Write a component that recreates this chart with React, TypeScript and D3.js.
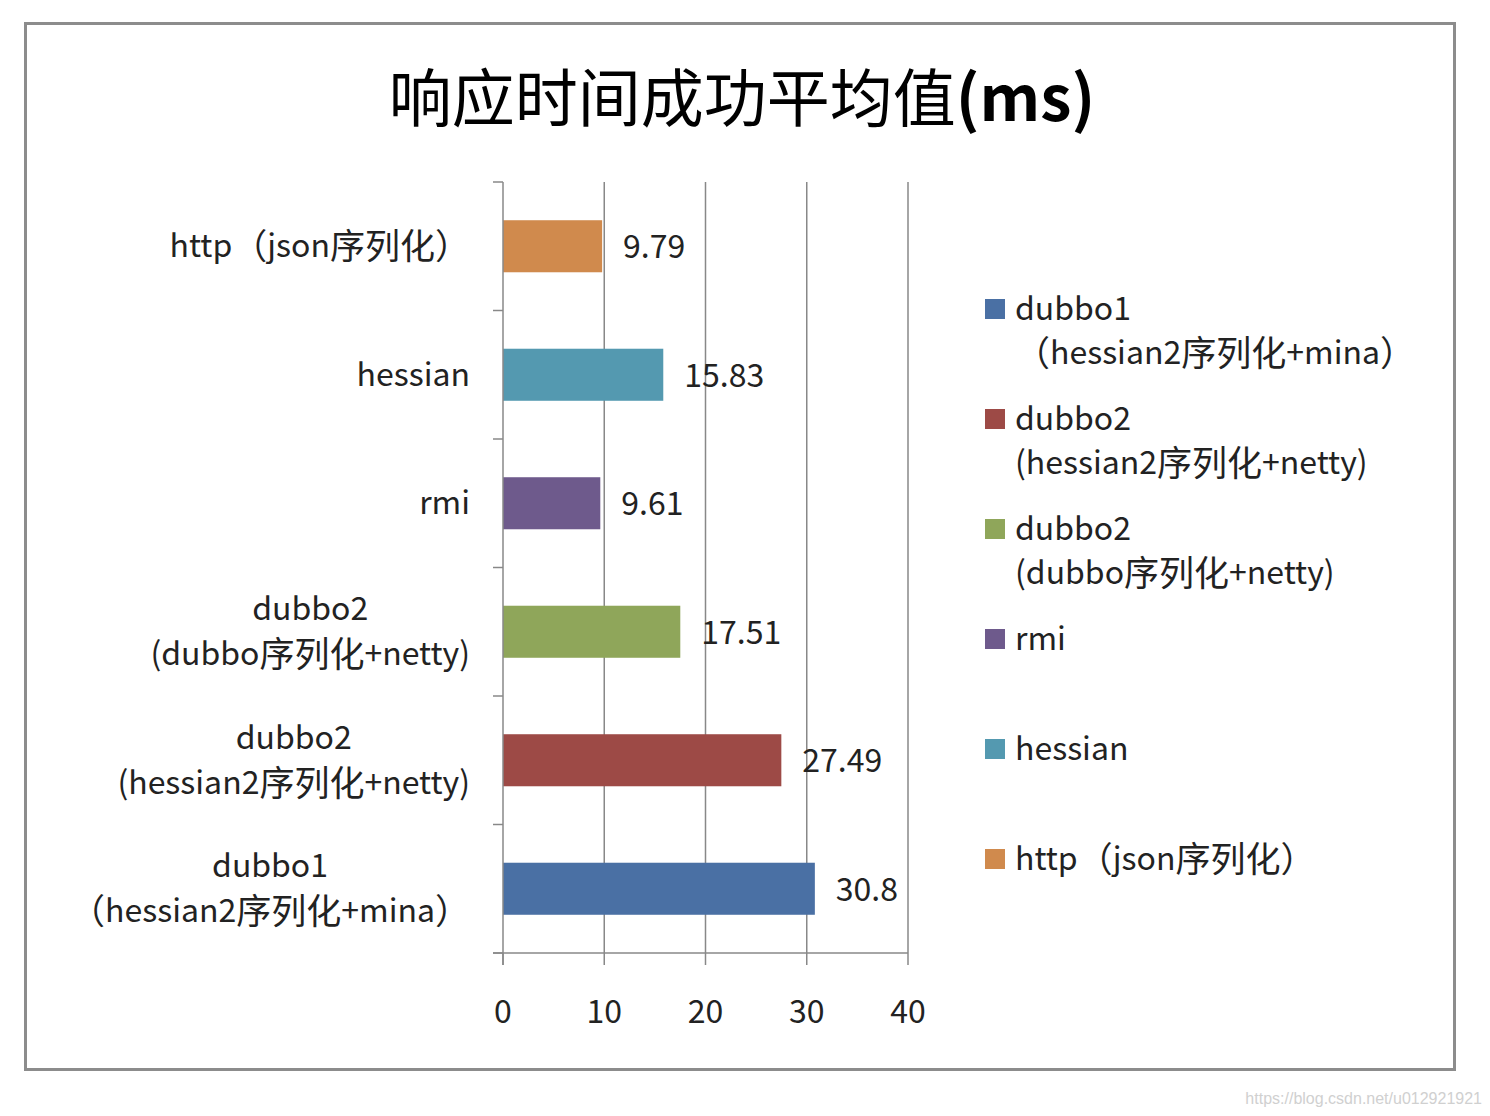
import React from "react";
import * as d3 from "d3";

const categories: string[][] = [
  ["http（json序列化）"],
  ["hessian"],
  ["rmi"],
  ["dubbo2", "(dubbo序列化+netty)"],
  ["dubbo2", "(hessian2序列化+netty)"],
  ["dubbo1", "（hessian2序列化+mina）"],
];
const values: number[] = [9.79, 15.83, 9.61, 17.51, 27.49, 30.8];
const valueLabels: string[] = ["9.79", "15.83", "9.61", "17.51", "27.49", "30.8"];
const colors: string[] = ["#D08A4D", "#5499B0", "#6E5A8C", "#8FA65A", "#9D4A46", "#4A70A4"];
const xTicks: number[] = [0, 10, 20, 30, 40];
const legendOrder: number[] = [5, 4, 3, 2, 1, 0];
const title = "响应时间成功平均值";
const titleUnit = "(ms)";
const watermark = "https://blog.csdn.net/u012921921";

const FONT = "'Noto Sans CJK SC', 'Noto Sans', sans-serif";
const LABEL_SIZE = 32;
const CJK_SIZE = 35;

const CJK_RE = /([\u3000-\u9fff\uff00-\uffef]+)/;

function runs(text: string): { t: string; cjk: boolean }[] {
  return text
    .split(CJK_RE)
    .filter((s) => s.length > 0)
    .map((s) => ({ t: s, cjk: CJK_RE.test(s) }));
}

let ctxCache: CanvasRenderingContext2D | null = null;
function measureRun(text: string, size: number): number {
  if (typeof document === "undefined") return text.length * size * 0.5;
  if (!ctxCache) ctxCache = document.createElement("canvas").getContext("2d");
  if (!ctxCache) return text.length * size * 0.5;
  ctxCache.font = `${size}px ${FONT}`;
  return ctxCache.measureText(text).width;
}
function measure(text: string): number {
  return runs(text).reduce((s, r) => s + measureRun(r.t, r.cjk ? CJK_SIZE : LABEL_SIZE), 0);
}

function MixedText(props: { text: string; x: number; y: number; anchor?: string }) {
  const { text, x, y, anchor } = props;
  return (
    <text
      x={x}
      y={y}
      textAnchor={anchor || "start"}
      dominantBaseline="central"
      fontSize={LABEL_SIZE}
      fill="#222"
    >
      {runs(text).map((r, k) => (
        <tspan key={k} fontSize={r.cjk ? CJK_SIZE : LABEL_SIZE}>
          {r.t}
        </tspan>
      ))}
    </text>
  );
}

export default function App() {
  const W = 1490;
  const H = 1116;
  const x = d3.scaleLinear().domain([0, 40]).range([503, 908]);
  const y = d3
    .scaleBand<number>()
    .domain(d3.range(categories.length))
    .range([182, 953])
    .padding(0);
  const bw = y.bandwidth();
  const barH = bw * 0.405;
  const labelRight = 470;
  const lineGap = 45;
  const dyText = -3;

  return (
    <svg
      width={W}
      height={H}
      style={{ position: "absolute", left: 0, top: 0, background: "#fff" }}
      fontFamily={FONT}
    >
      <rect x={0} y={0} width={W} height={H} fill="#fff" />
      <rect x={25.5} y={23.5} width={1429} height={1046} fill="#fff" stroke="#8c8c8c" strokeWidth={3} />

      <text x={742} y={93} textAnchor="middle" dominantBaseline="central" fontSize={63} fill="#000">
        {title}
        <tspan fontWeight="bold">{titleUnit}</tspan>
      </text>

      {/* gridlines */}
      {xTicks.slice(1).map((t) => (
        <line key={"g" + t} x1={x(t)} x2={x(t)} y1={182} y2={953} stroke="#888" strokeWidth={1.5} />
      ))}

      {/* bars */}
      {values.map((v, i) => {
        const yc = (y(i) as number) + bw / 2;
        return (
          <g key={"b" + i}>
            <rect x={x(0)} y={yc - barH / 2} width={x(v) - x(0)} height={barH} fill={colors[i]} />
            <text
              x={x(v) + 21}
              y={yc + dyText + 1}
              dominantBaseline="central"
              fontSize={LABEL_SIZE}
              fill="#222"
            >
              {valueLabels[i]}
            </text>
          </g>
        );
      })}

      {/* axes */}
      <line x1={x(0)} x2={x(0)} y1={182} y2={965} stroke="#888" strokeWidth={1.5} />
      <line x1={493} x2={x(40)} y1={953} y2={953} stroke="#888" strokeWidth={1.5} />
      {d3.range(categories.length + 1).map((k) => {
        const yy = 182 + k * bw;
        return <line key={"ct" + k} x1={493} x2={x(0)} y1={yy} y2={yy} stroke="#888" strokeWidth={1.5} />;
      })}
      {xTicks.map((t) => (
        <g key={"xt" + t}>
          <line x1={x(t)} x2={x(t)} y1={953} y2={965} stroke="#888" strokeWidth={1.5} />
          <text x={x(t)} y={1009} textAnchor="middle" dominantBaseline="central" fontSize={LABEL_SIZE} fill="#222">
            {t}
          </text>
        </g>
      ))}

      {/* category labels */}
      {categories.map((lines, i) => {
        const yc = (y(i) as number) + bw / 2 + dyText;
        const maxW = Math.max(...lines.map((l) => measure(l)));
        const cx = labelRight - maxW / 2;
        const y0 = yc - ((lines.length - 1) * lineGap) / 2;
        return (
          <g key={"cl" + i}>
            {lines.map((l, j) => (
              <MixedText
                key={j}
                text={l}
                x={lines.length === 1 ? labelRight : cx}
                y={y0 + j * lineGap}
                anchor={lines.length === 1 ? "end" : "middle"}
              />
            ))}
          </g>
        );
      })}

      {/* legend */}
      {legendOrder.map((idx, k) => {
        const yy = 309 + k * 110;
        const lines = categories[idx];
        return (
          <g key={"lg" + k}>
            <rect x={985} y={yy - 10} width={20} height={20} fill={colors[idx]} />
            {lines.map((l, j) => (
              <MixedText key={j} text={l} x={1015} y={yy - 3 + j * 44} />
            ))}
          </g>
        );
      })}

      <text x={1482} y={1098} textAnchor="end" dominantBaseline="central" fontSize={16} fontFamily="'Liberation Sans', Arial, sans-serif" fill="#d0d0d0">
        {watermark}
      </text>
    </svg>
  );
}
